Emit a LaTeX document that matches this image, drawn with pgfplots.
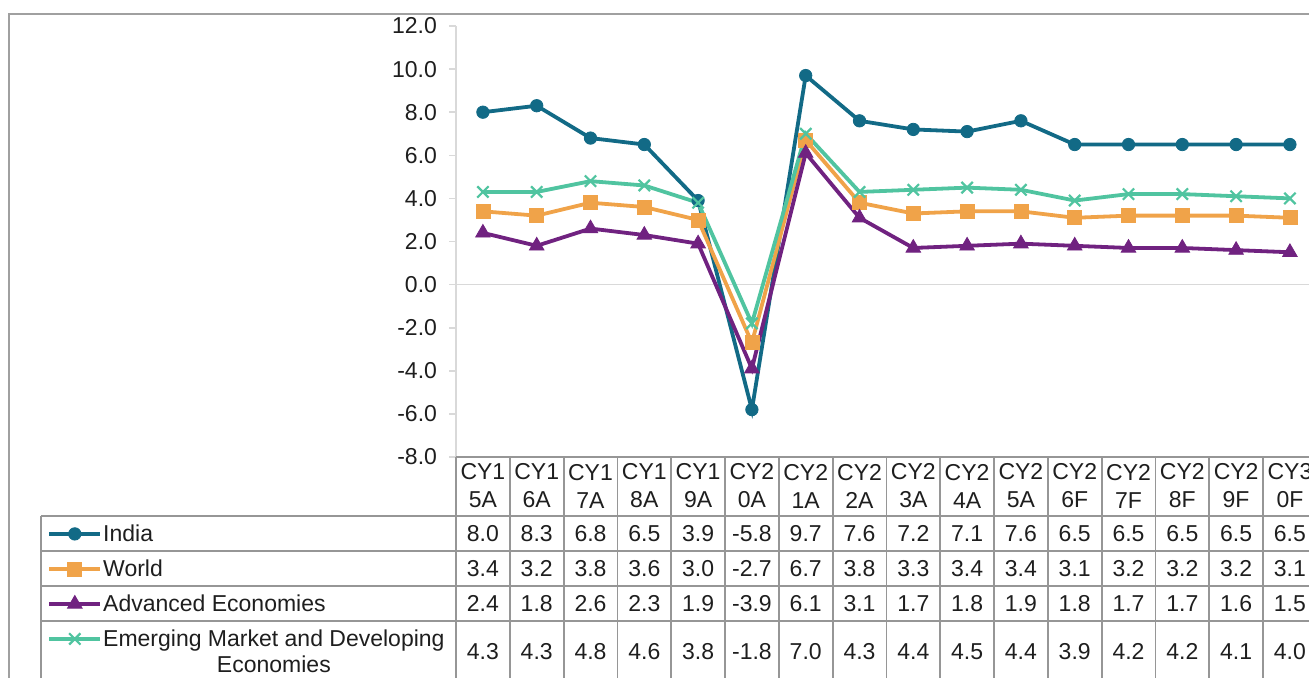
\documentclass[border=0pt]{standalone}
\usepackage{pgfplots}
\pgfplotsset{compat=1.18}
\usepackage{pgfplotstable}
\usepackage{fontspec}
\setmainfont{Liberation Sans}
\definecolor{cIndia}{RGB}{18,106,134}
\definecolor{cWorld}{RGB}{240,163,73}
\definecolor{cAdv}{RGB}{112,34,128}
\definecolor{cEM}{RGB}{80,196,160}
\definecolor{txt}{RGB}{30,30,30}
\definecolor{gridc}{RGB}{150,150,150}
\definecolor{axisgray}{RGB}{217,217,217}
\definecolor{framec}{RGB}{160,160,160}
\newcommand\cf{\fontsize{11.5}{14}\selectfont}

\pgfplotstableread{
x h1 h2 India World Adv EMDE
0 CY1 5A 8.0 3.4 2.4 4.3
1 CY1 6A 8.3 3.2 1.8 4.3
2 CY1 7A 6.8 3.8 2.6 4.8
3 CY1 8A 6.5 3.6 2.3 4.6
4 CY1 9A 3.9 3.0 1.9 3.8
5 CY2 0A -5.8 -2.7 -3.9 -1.8
6 CY2 1A 9.7 6.7 6.1 7.0
7 CY2 2A 7.6 3.8 3.1 4.3
8 CY2 3A 7.2 3.3 1.7 4.4
9 CY2 4A 7.1 3.4 1.8 4.5
10 CY2 5A 7.6 3.4 1.9 4.4
11 CY2 6F 6.5 3.1 1.8 3.9
12 CY2 7F 6.5 3.2 1.7 4.2
13 CY2 8F 6.5 3.2 1.7 4.2
14 CY2 9F 6.5 3.2 1.6 4.1
15 CY3 0F 6.5 3.1 1.5 4.0
}\data

\begin{document}
\begin{tikzpicture}
\path[use as bounding box] (0pt,0pt) rectangle (654.5pt,-339pt);
\clip (0pt,0pt) rectangle (654.5pt,-339pt);
\begin{axis}[
 at={(228pt,-228.5pt)}, anchor=south west,
 scale only axis, width=430.4pt, height=215.5pt,
 xmin=-0.5, xmax=15.5, ymin=-8, ymax=12,
 axis x line=none, axis y line=left,
 axis line style={draw=axisgray, line width=0.8pt, -},
 xtick=\empty,
 ytick={-8,-6,...,12},
 tick align=outside, major tick length=3.5pt,
 y tick style={draw=axisgray, line width=0.8pt},
 yticklabel style={font=\cf, text=txt, xshift=-2.5pt, /pgf/number format/.cd, fixed, fixed zerofill, precision=1, assume math mode=true},
 clip=false,
 legend style={at={(axis cs:-8.102,-10.738)}, anchor=north west, draw=none, fill=none, inner sep=0pt, font=\cf, text=txt, row sep=0pt, column sep=0.5pt, nodes={inner sep=0pt, text height=12.5pt, text depth=5pt}},
 legend cell align=left,
 legend image code/.code={\draw[mark repeat=2, mark phase=2] plot coordinates {(0pt,0pt) (12.75pt,0pt) (25.5pt,0pt)};},
 every axis plot/.append style={line width=1.9pt},
]
\addplot[axisgray, line width=0.8pt, forget plot, mark=none] coordinates {(-0.5,0) (15.5,0)};
\addplot[cIndia, mark=*, mark size=3.1pt, mark options={solid, line width=0.4pt}] table[x=x,y=India]{\data};
\addlegendentry{India}
\addplot[cWorld, mark=square*, mark size=3.5pt, mark options={solid, line width=0.4pt}] table[x=x,y=World]{\data};
\addlegendentry{World}
\addplot[cAdv, mark=triangle*, mark size=4.2pt, mark options={solid, line width=0.4pt}] table[x=x,y=Adv]{\data};
\addlegendentry{Advanced Economies}
\addplot[cEM, mark=x, mark size=4pt, mark options={solid, line width=1.1pt}] table[x=x,y=EMDE]{\data};
\addlegendentry{\smash{\begin{tabular}[t]{@{}c@{}}Emerging Market and Developing\\[-1pt] Economies\end{tabular}}}
\end{axis}
\begin{scope}[x=0.5pt, y=-0.5pt]
 \draw[framec, line width=1.2pt] (9,700) -- (9,14) -- (1330,14);
 \draw[gridc, line width=0.9pt] (456,457) -- (1330,457);
 \foreach \y in {516,551,586,621} \draw[gridc, line width=0.9pt] (41,\y) -- (1330,\y);
 \draw[gridc, line width=0.9pt] (41,516) -- (41,700);
 \foreach \k in {0,...,16} \draw[gridc, line width=0.9pt] ({456+53.8*\k},457) -- ({456+53.8*\k},700);
 \foreach \i in {0,...,15}{
  \pgfmathsetmacro\cx{456+53.8*(\i+0.5)}
  \pgfplotstablegetelem{\i}{h1}\of\data \edef\ha{\pgfplotsretval}
  \pgfplotstablegetelem{\i}{h2}\of\data \edef\hb{\pgfplotsretval}
  \node[font=\cf, text=txt, align=center] at (\cx,486) {\ha\\\hb};
  \pgfplotstablegetelem{\i}{India}\of\data
  \node[font=\cf, text=txt] at (\cx,533.7) {\pgfplotsretval};
  \pgfplotstablegetelem{\i}{World}\of\data
  \node[font=\cf, text=txt] at (\cx,568.7) {\pgfplotsretval};
  \pgfplotstablegetelem{\i}{Adv}\of\data
  \node[font=\cf, text=txt] at (\cx,603.7) {\pgfplotsretval};
  \pgfplotstablegetelem{\i}{EMDE}\of\data
  \node[font=\cf, text=txt] at (\cx,651.7) {\pgfplotsretval};
 }
\end{scope}
\end{tikzpicture}
\end{document}
